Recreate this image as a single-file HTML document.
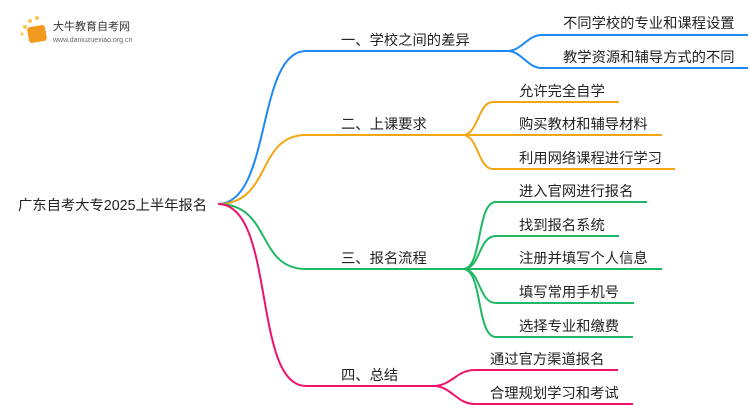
<!DOCTYPE html>
<html><head><meta charset="utf-8"><style>
body{margin:0;background:#fff;width:750px;height:410px;overflow:hidden}
svg text{font-family:"Liberation Sans","Noto Sans CJK SC",sans-serif;font-size:14.3px;fill:#222}
</style></head><body>
<svg width="750" height="410" viewBox="0 0 750 410" xmlns="http://www.w3.org/2000/svg" fill="none" stroke-width="2">
<g>
<circle cx="25" cy="27" r="2" fill="#f9c74f" stroke="none"/><circle cx="30" cy="21" r="2" fill="#f9c74f" stroke="none"/><circle cx="37" cy="18" r="2" fill="#f9c74f" stroke="none"/><circle cx="22" cy="34" r="1.5" fill="#f9c74f" stroke="none"/>
<rect x="28" y="26" width="18" height="16" rx="3" fill="#f29a1f" stroke="none" transform="rotate(-10 37 34)"/>
<text x="53" y="30" style="font-size:11px;fill:#333">大牛教育自考网</text>
<text x="53" y="42" style="font-size:7px;fill:#666">www.daniuzuexiao.org.cn</text>
</g>
<text x="18" y="210">广东自考大专2025上半年报名</text>
<g stroke="#1e88f5">
<path d="M218 204 C272 204 256 51 306 51 L507 51"/>
<path d="M507 51 C522 51 527 35 542 35 L748 35"/>
<path d="M507 51 C522 51 527 68 542 68 L748 68"/>
</g>
<text x="341" y="45">一、学校之间的差异</text>
<text x="563" y="28">不同学校的专业和课程设置</text>
<text x="563" y="62">教学资源和辅导方式的不同</text>
<g stroke="#f3a614">
<path d="M218 204 C272 204 256 135 306 135 L463 135"/>
<path d="M463 135 C478 135 478 102 493 102 L619 102"/>
<path d="M463 135 L662 135"/>
<path d="M463 135 C478 135 478 169 493 169 L675 169"/>
</g>
<text x="341" y="129">二、上课要求</text>
<text x="519" y="96">允许完全自学</text>
<text x="519" y="129">购买教材和辅导材料</text>
<text x="519" y="163">利用网络课程进行学习</text>
<g stroke="#1db864">
<path d="M218 204 C272 204 256 269 306 269 L463 269"/>
<path d="M463 269 C483 269 476 202 496 202 L647 202"/>
<path d="M463 269 C481 269 478 236 496 236 L619 236"/>
<path d="M463 269 L662 269"/>
<path d="M463 269 C481 269 478 303 496 303 L634 303"/>
<path d="M463 269 C483 269 476 337 496 337 L633 337"/>
</g>
<text x="341" y="263">三、报名流程</text>
<text x="519" y="196">进入官网进行报名</text>
<text x="519" y="230">找到报名系统</text>
<text x="519" y="263">注册并填写个人信息</text>
<text x="519" y="297">填写常用手机号</text>
<text x="519" y="331">选择专业和缴费</text>
<g stroke="#f0136b">
<path d="M218 204 C276 204 252 386 306 386 L433 386"/>
<path d="M433 386 C452 386 456 370 475 370 L618 370"/>
<path d="M433 386 C452 386 456 404 475 404 L633 404"/>
</g>
<text x="341" y="380">四、总结</text>
<text x="490" y="364">通过官方渠道报名</text>
<text x="490" y="398">合理规划学习和考试</text>
</svg>
</body></html>
